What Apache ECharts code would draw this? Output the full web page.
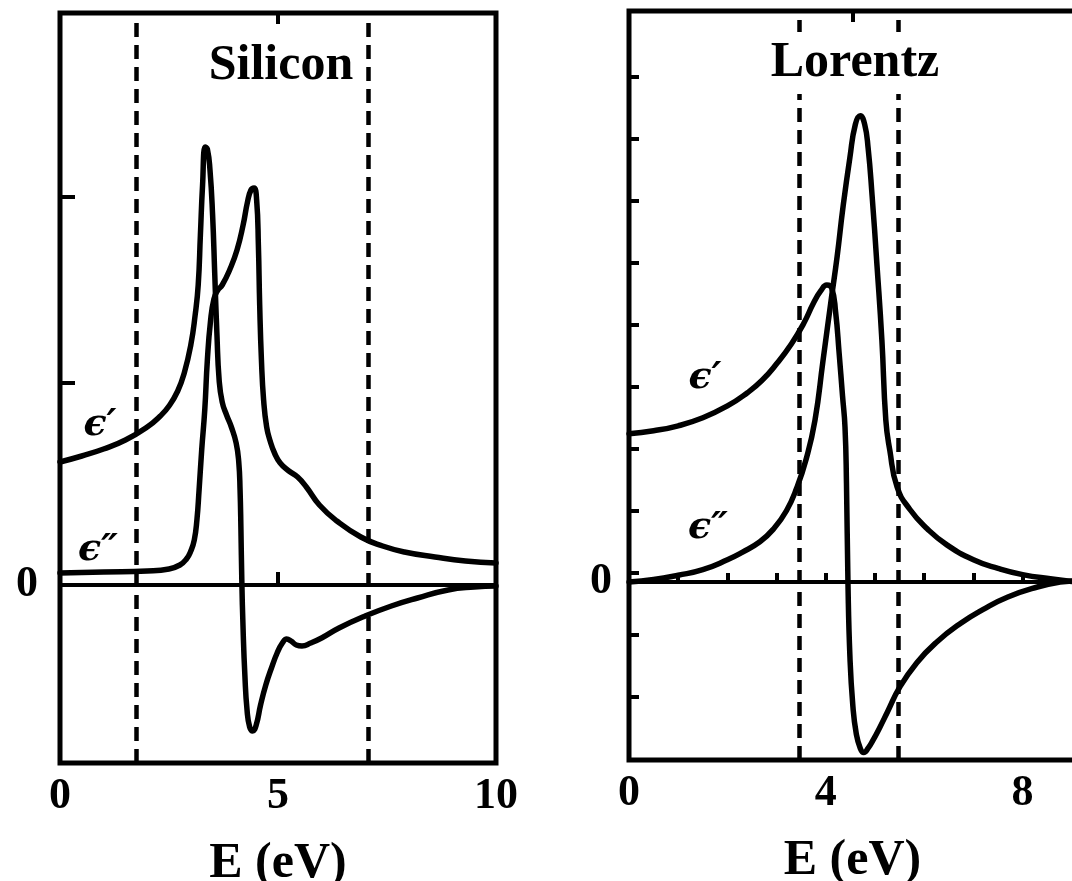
<!DOCTYPE html>
<html>
<head>
<meta charset="utf-8">
<script src="https://cdn.jsdelivr.net/npm/echarts@6/dist/echarts.min.js"></script>
<style>
  html, body { margin: 0; padding: 0; background: #fff; }
  #chart { width: 1072px; height: 881px; }
</style>
</head>
<body>
<div id="chart"></div>
<script>
// Silicon, real part (eps') and imaginary part (eps'')
const siRealE   = [0, 0.5, 1.0, 1.5, 2.0, 2.3, 2.5, 2.7, 2.85, 3.0, 3.1, 3.17, 3.22, 3.27, 3.33, 3.38, 3.44, 3.5, 3.55, 3.6, 3.65, 3.72, 3.82, 3.93, 4.04, 4.1, 4.13, 4.15, 4.17, 4.2, 4.24, 4.29, 4.35, 4.42, 4.5, 4.6, 4.72, 4.85, 4.98, 5.1, 5.2, 5.3, 5.42, 5.55, 5.75, 6.0, 6.4, 7.0, 7.6, 8.2, 8.9, 9.5, 10];
const siRealEps = [12.3, 12.9, 13.6, 14.5, 15.8, 16.9, 17.9, 19.4, 21.2, 24.0, 27.0, 30.0, 35.0, 40.0, 43.8, 43.6, 41.5, 37.0, 31.0, 25.0, 20.5, 18.3, 17.0, 15.8, 14.2, 12.3, 9.5, 5.5, 0.5, -4.5, -9.0, -12.5, -14.2, -14.6, -14.0, -12.0, -10.0, -8.3, -6.8, -5.8, -5.4, -5.6, -6.0, -6.1, -5.8, -5.3, -4.3, -3.1, -2.1, -1.3, -0.5, -0.2, -0.1];
const siImagE   = [0, 1.0, 2.0, 2.5, 2.75, 2.9, 3.0, 3.08, 3.14, 3.19, 3.25, 3.32, 3.38, 3.45, 3.53, 3.62, 3.72, 3.9, 4.06, 4.2, 4.3, 4.38, 4.45, 4.51, 4.55, 4.58, 4.62, 4.67, 4.74, 4.82, 4.92, 5.05, 5.25, 5.45, 5.65, 5.95, 6.35, 6.9, 7.4, 7.9, 8.6, 9.3, 10];
const siImagEps = [1.2, 1.3, 1.4, 1.6, 2.0, 2.6, 3.4, 4.5, 6.5, 9.5, 13.5, 17.5, 22.5, 26.3, 28.6, 29.5, 30.0, 31.6, 33.5, 36.0, 38.3, 39.5, 39.7, 38.5, 34.0, 28.0, 22.5, 18.5, 15.8, 14.4, 13.2, 12.2, 11.4, 10.8, 9.8, 8.0, 6.4, 4.8, 3.9, 3.3, 2.8, 2.4, 2.2];
const siDashed  = [1.74, 7.06];

// Lorentz oscillator
const lzRealE   = [0, 0.5, 1.0, 1.5, 2.0, 2.4, 2.7, 3.0, 3.3, 3.55, 3.75, 3.9, 4.02, 4.12, 4.2, 4.27, 4.34, 4.39, 4.42, 4.45, 4.49, 4.55, 4.62, 4.7, 4.77, 4.86, 4.96, 5.1, 5.25, 5.5, 5.85, 6.25, 6.75, 7.2, 7.7, 8.3, 8.76, 9.08];
const lzRealEps = [2.39, 2.44, 2.52, 2.65, 2.84, 3.05, 3.25, 3.52, 3.84, 4.17, 4.5, 4.7, 4.79, 4.74, 4.35, 3.7, 3.0, 2.5, 1.6, 0.0, -1.2, -2.0, -2.45, -2.68, -2.75, -2.68, -2.55, -2.34, -2.1, -1.7, -1.3, -0.97, -0.66, -0.44, -0.24, -0.08, 0, 0.02];
const lzImagE   = [0, 0.5, 1.0, 1.5, 2.0, 2.3, 2.66, 2.93, 3.2, 3.41, 3.6, 3.78, 3.94, 4.1, 4.23, 4.35, 4.49, 4.6, 4.7, 4.79, 4.86, 4.94, 5.04, 5.14, 5.22, 5.3, 5.45, 5.71, 6.06, 6.46, 7.0, 7.5, 8.0, 8.6, 9.08];
const lzImagEps = [0, 0.04, 0.11, 0.2, 0.36, 0.48, 0.65, 0.85, 1.15, 1.52, 1.98, 2.61, 3.55, 4.5, 5.25, 6.05, 6.85, 7.38, 7.52, 7.38, 7.0, 6.24, 5.11, 3.9, 2.61, 2.13, 1.53, 1.17, 0.86, 0.6, 0.36, 0.22, 0.12, 0.05, 0];
const lzDashed  = [3.46, 5.47];

const siXLabels = [0, 5, 10];
const lzXLabels = [0, 4, 8];
const lzXTicks = [1, 2, 3, 4, 5, 6, 7, 8];
const lzYTicks = [-1.85, -0.85, 0.15, 1.15, 2.15, 3.15, 4.15, 5.15, 6.15, 7.15, 8.15];
const siYTicks = [20.2, 38.8];

const zip = (xs, ys) => xs.map((x, i) => [x, ys[i]]);

const serif = '"Liberation Serif", "DejaVu Serif", serif';
const black = '#000';

const curve = (name, xi, yi, data, marks) => ({
    name,
    type: 'line',
    xAxisIndex: xi,
    yAxisIndex: yi,
    data,
    showSymbol: false,
    smooth: 0.5,
    lineStyle: { color: black, width: 5.5, cap: 'round', join: 'round' },
    markLine: marks,
    z: 3,
});

const guides = (dashed) => ({
    silent: true,
    symbol: 'none',
    label: { show: false },
    animation: false,
    data: [
        ...dashed.map(v => ({ xAxis: v, lineStyle: { type: [14, 8], width: 4.5, color: black } })),
        { yAxis: 0, lineStyle: { type: 'solid', width: 4, color: black } },
    ],
});

const bottomAxis = (gi, max, labels, ticks, len) => ({
    gridIndex: gi,
    type: 'value',
    position: 'bottom',
    min: 0,
    max,
    name: 'E (eV)',
    nameLocation: 'middle',
    nameGap: 76,
    nameTextStyle: { fontFamily: serif, fontWeight: 'bold', fontSize: 50, color: black },
    axisLine: { show: false },
    splitLine: { show: false },
    axisTick: { inside: true, length: len, customValues: ticks, lineStyle: { color: black, width: 4 } },
    axisLabel: { customValues: labels, margin: 12, fontFamily: serif, fontWeight: 'bold', fontSize: 44, color: black },
});

const topAxis = (gi, max, ticks, len) => ({
    gridIndex: gi,
    type: 'value',
    position: 'top',
    min: 0,
    max,
    axisLine: { show: false },
    splitLine: { show: false },
    axisLabel: { show: false },
    axisTick: { inside: true, length: len, customValues: ticks, lineStyle: { color: black, width: 4 } },
});

const leftAxis = (gi, min, max, ticks, len, margin) => ({
    gridIndex: gi,
    type: 'value',
    position: 'left',
    min,
    max,
    axisLine: { show: false },
    splitLine: { show: false },
    axisTick: { inside: true, length: len, customValues: ticks, lineStyle: { color: black, width: 4 } },
    axisLabel: { customValues: [0], margin, fontFamily: serif, fontWeight: 'bold', fontSize: 44, color: black },
});

const label = (text, x, y, font, boxed) => ({
    type: 'text',
    x, y,
    style: {
        text,
        fill: black,
        font,
        align: 'center', verticalAlign: 'middle',
        textAlign: 'center', textVerticalAlign: 'middle',
        backgroundColor: boxed ? '#fff' : null,
        padding: boxed ? [6, 2] : 0,
    },
    z: 10,
});

const titleFont = 'bold 50px ' + serif;
const epsFont = 'italic bold 38px "DejaVu Serif", serif';

const chart = echarts.init(document.getElementById('chart'), null, { renderer: 'canvas' });
chart.setOption({
    animation: false,
    backgroundColor: '#fff',
    grid: [
        { left: 60, top: 13, width: 436, height: 750, show: true, borderColor: black, borderWidth: 5, backgroundColor: 'transparent', containLabel: false, outerBoundsMode: 'none' },
        { left: 629, top: 11, width: 447, height: 749, show: true, borderColor: black, borderWidth: 5, backgroundColor: 'transparent', containLabel: false, outerBoundsMode: 'none' },
    ],
    xAxis: [
        bottomAxis(0, 10, siXLabels, [5], 13),
        topAxis(0, 10, [5], 11),
        bottomAxis(1, 9.085, lzXLabels, lzXTicks, 9),
        topAxis(1, 9.085, [4.55], 11),
    ],
    yAxis: [
        leftAxis(0, -17.8, 57.2, siYTicks, 15, 22),
        leftAxis(1, -2.87, 9.21, lzYTicks, 10, 17),
    ],
    series: [
        curve("ε'", 0, 0, zip(siRealE, siRealEps), guides(siDashed)),
        curve('ε"', 0, 0, zip(siImagE, siImagEps)),
        curve("ε'", 2, 1, zip(lzRealE, lzRealEps), guides(lzDashed)),
        curve('ε"', 2, 1, zip(lzImagE, lzImagEps)),
    ],
    graphic: [
        label('Silicon', 281, 66, titleFont, true),
        label('Lorentz', 855, 63, titleFont, true),
        label('ϵ′', 100, 425, epsFont, false),
        label('ϵ″', 98, 550, epsFont, false),
        label('ϵ′', 705, 378, epsFont, false),
        label('ϵ″', 708, 528, epsFont, false),
    ],
});
</script>
</body>
</html>
